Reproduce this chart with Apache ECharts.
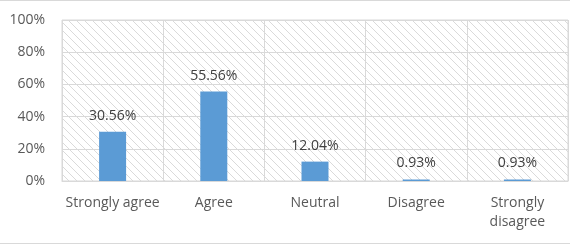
<!DOCTYPE html>
<html>
<head>
<meta charset="utf-8">
<script src="https://cdn.jsdelivr.net/npm/echarts@6/dist/echarts.min.js"></script>
<style>
  html, body { margin: 0; padding: 0; background: #fff; }
  #chart { width: 570px; height: 245px; }
</style>
</head>
<body>
<div id="chart"></div>
<script>
// 类别与数值
const categories = ['Strongly agree', 'Agree', 'Neutral', 'Disagree', 'Strongly\ndisagree'];
const percentValues = [30.56, 55.56, 12.04, 0.93, 0.93];
const yTicks = [0, 20, 40, 60, 80, 100];

// 斜线填充背景（仿 Excel 图案）
function makeHatch() {
  const c = document.createElement('canvas');
  c.width = 8;
  c.height = 8;
  const ctx = c.getContext('2d');
  ctx.fillStyle = '#fff';
  ctx.fillRect(0, 0, 8, 8);
  ctx.fillStyle = '#dadada';
  for (let i = 0; i < 8; i++) {
    ctx.fillRect(i, i, 1, 1);
  }
  return c;
}

const chart = echarts.init(document.getElementById('chart'));
const font = '"Open Sans", sans-serif';

chart.setOption({
  animation: false,
  grid: {
    left: 62, right: 2, top: 20, bottom: 64,
    show: true,
    backgroundColor: { image: makeHatch(), repeat: 'repeat' },
    borderColor: '#d9d9d9',
    borderWidth: 1
  },
  xAxis: {
    type: 'category',
    data: categories,
    axisLine: { lineStyle: { color: '#d9d9d9' } },
    axisTick: { show: false },
    splitLine: { show: true, lineStyle: { color: '#d9d9d9' } },
    axisLabel: {
      color: '#595959', fontSize: 14, fontFamily: font,
      margin: 13, lineHeight: 19, interval: 0
    }
  },
  yAxis: {
    type: 'value',
    min: yTicks[0],
    max: yTicks[yTicks.length - 1],
    interval: 20,
    axisLine: { show: false },
    axisTick: { show: false },
    splitLine: { lineStyle: { color: '#d9d9d9' } },
    axisLabel: {
      color: '#595959', fontSize: 14, fontFamily: font, margin: 17,
      formatter: v => v + '%'
    }
  },
  series: [{
    type: 'bar',
    data: percentValues,
    barWidth: 27,
    itemStyle: { color: '#5b9bd5' },
    label: {
      show: true,
      position: 'top',
      distance: 9,
      color: '#404040',
      fontSize: 14,
      fontFamily: font,
      formatter: p => p.value.toFixed(2) + '%'
    }
  }],
  graphic: [
    { type: 'line', shape: { x1: 0, y1: 0.5, x2: 570, y2: 0.5 }, style: { stroke: '#d9d9d9', lineWidth: 1 } },
    { type: 'line', shape: { x1: 0, y1: 243.5, x2: 570, y2: 243.5 }, style: { stroke: '#d9d9d9', lineWidth: 1 } }
  ]
});
</script>
</body>
</html>
